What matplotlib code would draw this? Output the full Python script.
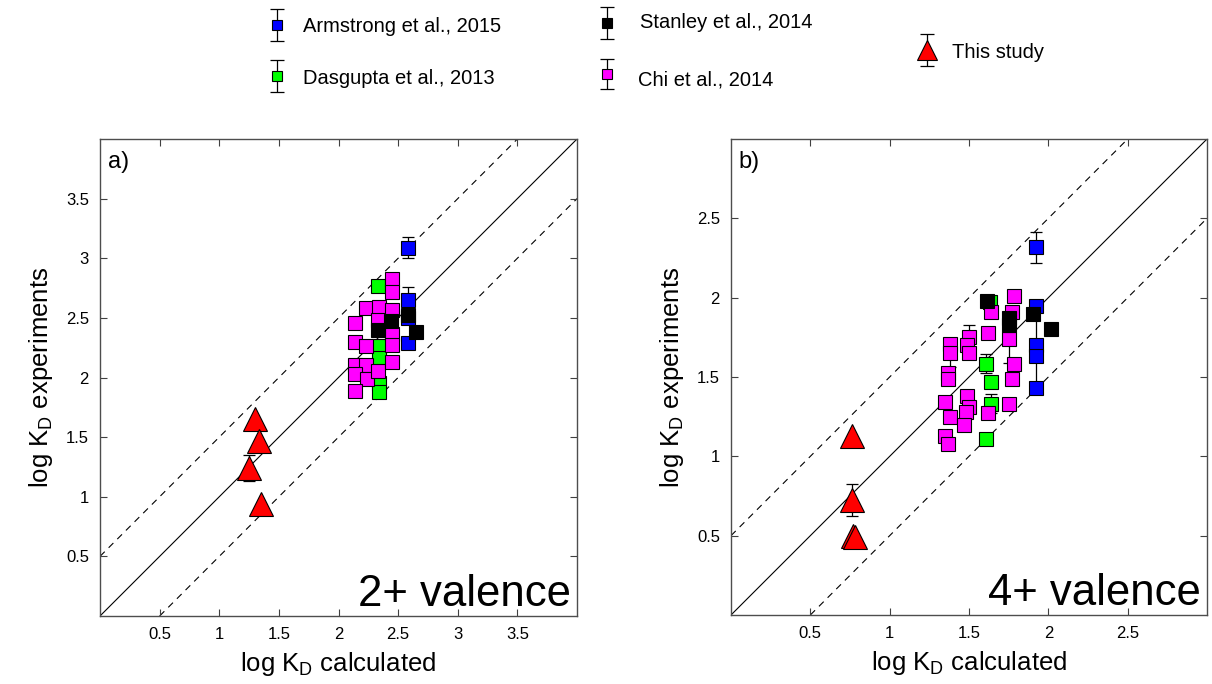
import numpy as np
import matplotlib
matplotlib.use("Agg")
import matplotlib.pyplot as plt

plt.rcParams['font.family'] = ['Liberation Sans', 'DejaVu Sans']
plt.rcParams['mathtext.fontset'] = 'custom'
plt.rcParams['mathtext.rm'] = 'Liberation Sans'

# ---- 2+ valence ----
arm_x2 = [2.58, 2.58, 2.58, 2.58]
arm_y2 = [3.09, 2.65, 2.50, 2.29]
arm_e2 = [0.09, 0.11, 0.0, 0.0]

das_x2 = [2.33, 2.34, 2.34, 2.34, 2.34]
das_y2 = [2.77, 2.26, 2.16, 1.95, 1.875]
das_e2 = [0.0, 0.0, 0.0, 0.0, 0.0]

chi_x2 = [2.45, 2.45, 2.23, 2.34, 2.45, 2.14, 2.335, 2.14, 2.23, 2.45,
          2.45, 2.14, 2.23, 2.14, 2.24, 2.335, 2.45, 2.14]
chi_y2 = [2.825, 2.72, 2.58, 2.59, 2.57, 2.455, 2.48, 2.30, 2.26, 2.365,
          2.27, 2.105, 2.105, 2.03, 1.985, 2.055, 2.13, 1.885]
chi_e2 = [0.0, 0.0, 0.05, 0.0, 0.0, 0.0, 0.0, 0.0, 0.0, 0.0,
          0.0, 0.0, 0.0, 0.0, 0.0, 0.0, 0.0, 0.0]

sta_x2 = [2.33, 2.44, 2.58, 2.65]
sta_y2 = [2.40, 2.47, 2.525, 2.385]
sta_e2 = [0.0, 0.0, 0.0, 0.0]

this_x2 = [1.30, 1.33, 1.25, 1.35]
this_y2 = [1.65, 1.47, 1.24, 0.94]
this_e2 = [0.0, 0.0, 0.11, 0.0]

# ---- 4+ valence ----
arm_x4 = [1.92, 1.92, 1.92, 1.92, 1.92]
arm_y4 = [2.317, 1.95, 1.70, 1.63, 1.43]
arm_e4 = [0.10, 0.0, 0.25, 0.0, 0.0]

das_x4 = [1.635, 1.605, 1.636, 1.636, 1.605]
das_y4 = [1.975, 1.585, 1.47, 1.33, 1.11]
das_e4 = [0.0, 0.06, 0.0, 0.06, 0.0]

chi_x4 = [1.785, 1.636, 1.77, 1.62, 1.75, 1.50, 1.485, 1.50, 1.38, 1.38,
          1.365, 1.365, 1.785, 1.77, 1.35, 1.485, 1.50, 1.48, 1.38, 1.47,
          1.75, 1.62, 1.35, 1.365]
chi_y4 = [2.01, 1.91, 1.91, 1.78, 1.74, 1.75, 1.70, 1.65, 1.705, 1.65,
          1.525, 1.485, 1.58, 1.49, 1.34, 1.38, 1.31, 1.28, 1.25, 1.20,
          1.33, 1.27, 1.13, 1.075]
chi_e4 = [0.0, 0.0, 0.0, 0.0, 0.15, 0.08, 0.0, 0.0, 0.0, 0.09,
          0.0, 0.0, 0.0, 0.0, 0.0, 0.0, 0.0, 0.0, 0.0, 0.0,
          0.0, 0.0, 0.0, 0.0]

sta_x4 = [1.615, 1.75, 1.75, 1.905, 2.015]
sta_y4 = [1.98, 1.87, 1.83, 1.895, 1.80]
sta_e4 = [0.0, 0.0, 0.0, 0.0, 0.0]

this_x4 = [0.765, 0.76, 0.77, 0.78]
this_y4 = [1.13, 0.725, 0.495, 0.49]
this_e4 = [0.0, 0.10, 0.0, 0.0]

labels = ["Armstrong et al., 2015", "Dasgupta et al., 2013",
          "Stanley et al., 2014", "Chi et al., 2014", "This study"]
colors = ["#0000ff", "#00ff00", "#000000", "#ff00ff", "#ff0000"]


def draw_series(ax, x, y, e, color, marker, ms, z):
    x = np.asarray(x); y = np.asarray(y); e = np.asarray(e)
    m = e > 0
    if m.any():
        ax.errorbar(x[m], y[m], yerr=e[m], fmt='none', ecolor='black',
                    elinewidth=0.9, capsize=4, capthick=0.9, zorder=z - 0.5)
    ax.plot(x, y, ls='none', marker=marker, ms=ms, mfc=color, mec='black',
            mew=0.8, zorder=z)


def panel(ax, lim, ticks, series, tag, valence):
    ax.set_xlim(0, lim)
    ax.set_ylim(0, lim)
    ax.axline((0, 0), slope=1, color='black', lw=0.8, zorder=1)
    ax.axline((0, 0.5), slope=1, color='black', lw=0.8, ls=(0, (6, 5)), zorder=1)
    ax.axline((0.5, 0), slope=1, color='black', lw=0.8, ls=(0, (6, 5)), zorder=1)
    (ax_, ay, ae), (dx, dy, de), (cx, cy, ce), (sx, sy, se), (tx, ty, te) = series
    draw_series(ax, ax_, ay, ae, colors[0], 's', 9.5, 3)
    draw_series(ax, dx, dy, de, colors[1], 's', 9.5, 4)
    draw_series(ax, cx, cy, ce, colors[3], 's', 9.5, 5)
    draw_series(ax, sx, sy, se, colors[2], 's', 9.5, 6)
    draw_series(ax, tx, ty, te, colors[4], '^', 17, 7)
    ax.set_xticks(ticks)
    ax.set_yticks(ticks)
    ax.set_xticklabels([f"{t:g}" for t in ticks])
    ax.set_yticklabels([f"{t:g}" for t in ticks])
    ax.tick_params(direction='in', top=True, right=True, length=5,
                   labelsize=12, width=0.8, color='0.25', pad=8)
    for s in ax.spines.values():
        s.set_color('0.3')
        s.set_linewidth(1.0)
    ax.set_xlabel(r"log K$_\mathregular{D}$ calculated", fontsize=18.5, labelpad=6)
    ax.set_ylabel(r"log K$_\mathregular{D}$ experiments", fontsize=18.5, labelpad=8)
    ax.text(0.016, 0.975, tag, transform=ax.transAxes, fontsize=17,
            ha='left', va='top')
    ax.text(0.988, 0.02, valence, transform=ax.transAxes, fontsize=31.5,
            ha='right', va='baseline')


fig = plt.figure(figsize=(12.12, 6.84), dpi=100)
ax1 = fig.add_axes([100 / 1212, 68 / 684, 477 / 1212, 477 / 684])
ax2 = fig.add_axes([731 / 1212, 69 / 684, 476 / 1212, 476 / 684])

panel(ax1, 4, [0.5, 1, 1.5, 2, 2.5, 3, 3.5],
      [(arm_x2, arm_y2, arm_e2), (das_x2, das_y2, das_e2),
       (chi_x2, chi_y2, chi_e2), (sta_x2, sta_y2, sta_e2),
       (this_x2, this_y2, this_e2)], "a)", "2+ valence")
panel(ax2, 3, [0.5, 1, 1.5, 2, 2.5],
      [(arm_x4, arm_y4, arm_e4), (das_x4, das_y4, das_e4),
       (chi_x4, chi_y4, chi_e4), (sta_x4, sta_y4, sta_e4),
       (this_x4, this_y4, this_e4)], "b)", "4+ valence")

# legend drawn in pixel space across the top of the figure
lg = fig.add_axes([0, 0, 1, 1], zorder=-1)
lg.set_xlim(0, 1212)
lg.set_ylim(684, 0)
lg.axis('off')
keys = [(277, 25, 16), (277, 76, 16), (607, 23, 16), (607, 74, 15), (927, 50, 16)]
text_pos = [(303, 26), (303, 79), (640, 23), (638, 80), (952, 52)]
for i, lab in enumerate(labels):
    kx, ky, ke = keys[i]
    marker, ms = ('^', 14) if i == 4 else ('s', 7.5)
    lg.errorbar([kx], [ky], yerr=[ke], fmt='none', ecolor='black',
                elinewidth=0.9, capsize=5, capthick=0.9)
    lg.plot([kx], [ky], ls='none', marker=marker, ms=ms, mfc=colors[i],
            mec='black', mew=0.8)
    lg.text(text_pos[i][0], text_pos[i][1], lab, fontsize=14.5,
            ha='left', va='center')

fig.savefig("out.png", dpi=100)
